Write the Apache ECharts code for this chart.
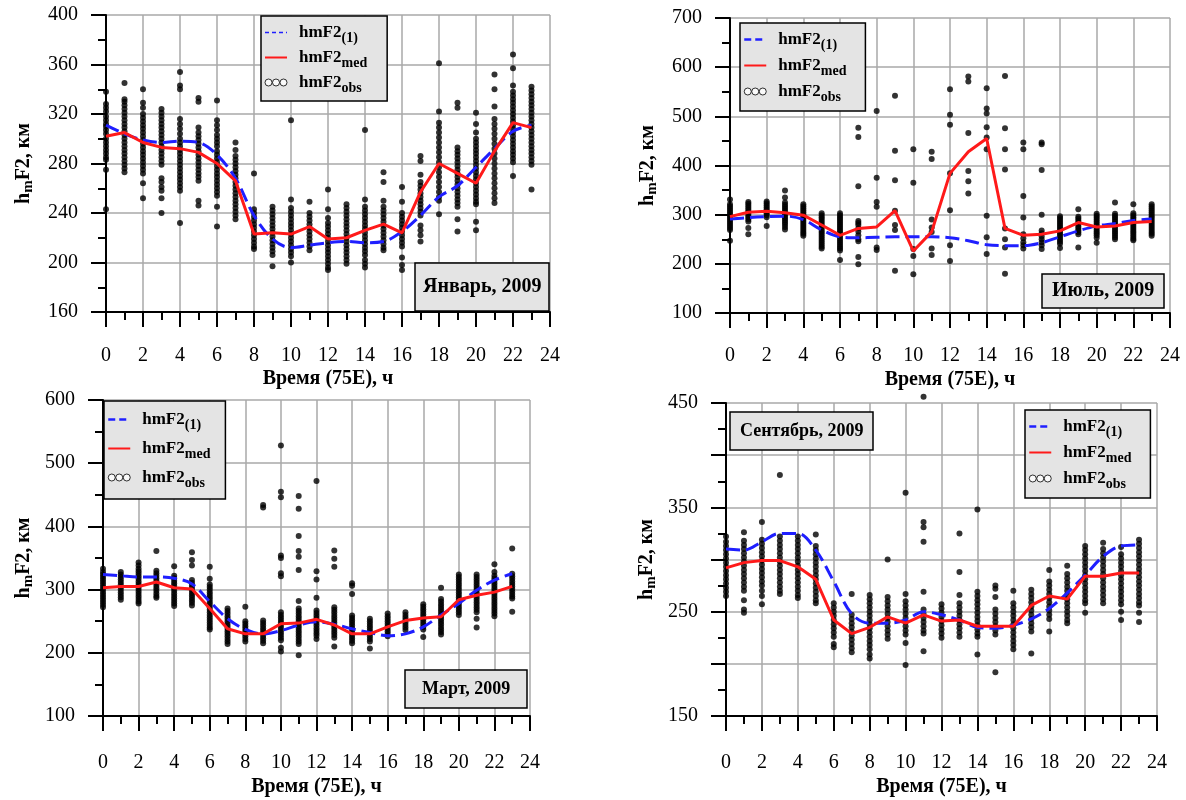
<!DOCTYPE html>
<html>
<head>
<meta charset="utf-8">
<script src="https://cdn.jsdelivr.net/npm/echarts@6/dist/echarts.min.js"></script>
<style>
html,body{margin:0;padding:0;background:#fff;}
#chart{width:1186px;height:800px;}
</style>
</head>
<body>
<div id="chart"></div>
<script>
// ---------- DATA ----------
const hours = [0,1,2,3,4,5,6,7,8,9,10,11,12,13,14,15,16,17,18,19,20,21,22,23];

// January 2009
const janMed   = [302,305,297,293,292,289,280,266,223,224,223,229,219,220,226,231,224,257,280,272,264,290,313,309];
const janModel = [311,304,299,297,298,297,287,268,238,219,212,214,216,217,216,217,225,238,253,262,277,292,306,311];
const janObs = [
 [338,328,325,322,318,315,312,310,307,304,300,297,294,291,288,285,283,275,243],
 [345,332,330,327,324,321,318,315,312,309,306,303,300,297,294,291,288,285,282,279,276,273],
 [340,329,325,320,317,314,311,308,305,302,299,296,293,290,287,284,281,278,275,272,264,252],
 [324,321,318,315,312,309,306,303,300,297,294,291,288,285,282,279,268,265,261,258,252,240],
 [354,343,340,316,312,308,304,300,297,294,291,288,285,282,279,276,273,270,267,264,261,258,232],
 [333,330,309,305,302,299,296,293,290,287,284,281,278,275,272,269,266,250,246],
 [331,315,311,307,303,300,297,294,290,287,284,281,278,275,272,269,266,263,260,257,254,245,229],
 [297,291,286,283,280,277,274,271,268,265,262,259,256,253,250,247,244,241,238,235],
 [272,243,240,237,234,231,228,225,222,219,216,213,211],
 [245,242,239,236,233,230,227,224,221,218,215,212,209,206,197],
 [315,251,244,241,238,235,232,229,226,223,220,217,214,211,208,205,200],
 [249,240,237,234,231,228,225,222,219,216,213,210],
 [259,243,236,232,229,226,223,220,217,214,211,208,205,202,199,196,194],
 [247,244,241,238,235,232,229,226,223,220,217,214,211,208,205,202,199],
 [307,251,245,242,239,236,233,230,227,224,221,218,215,212,209,206,202,199,196],
 [273,265,250,245,242,239,236,233,230,227,224,221,218,215,212,210],
 [261,249,240,237,234,231,228,225,222,219,216,213,204,198,194],
 [286,282,271,265,262,259,256,253,250,247,244,241,238,230,226,222,217],
 [361,322,313,309,305,301,297,293,289,285,281,277,273,269,265,261,257,253,250,239],
 [329,325,293,290,287,284,281,278,275,272,269,266,263,260,257,254,251,248,245,235,225],
 [321,312,305,300,297,294,291,288,285,282,279,276,273,270,267,264,261,258,255,252,249,247,233,226],
 [352,340,326,316,312,308,304,300,296,292,288,284,280,276,272,268,264,260,256,252,248],
 [368,357,343,338,335,332,329,326,323,320,317,314,311,308,305,302,299,296,293,290,287,284,281,270],
 [342,339,336,333,330,327,324,321,318,315,312,309,306,303,300,297,294,291,288,285,282,279,259]
];

// July 2009
const julMed   = [296,305,307,304,299,279,258,272,275,308,226,265,384,428,455,272,258,260,267,284,275,277,284,286];
const julModel = [291,294,296,297,290,269,255,253,254,255,255,255,253,247,239,237,237,243,255,267,277,282,288,291];
const julObs = [
 [331,321,317,313,309,305,301,297,293,289,285,281,277,273,269,247],
 [326,322,318,314,310,306,302,298,294,290,286,273,260],
 [327,323,319,315,311,307,303,299,295,277],
 [349,335,325,320,316,312,308,304,300,296,292,288,284,280,275,270],
 [321,317,313,309,305,301,297,293,289,285,281,277,273,269,265,261,257],
 [303,299,295,291,287,283,279,275,271,267,263,259,255,251,247,243,239,235,231],
 [303,299,295,291,287,283,279,275,271,267,263,259,255,251,247,243,239,235,231,227,208],
 [477,458,358,287,283,279,272,266,258,250,246,214,199],
 [511,375,326,316,233,228],
 [542,430,370,308,279,269,186],
 [433,365,230,216,179],
 [428,413,290,274,265,231,218],
 [555,503,483,384,309,238,206],
 [581,571,466,389,368,343],
 [557,516,506,478,457,433,298,254,220],
 [582,476,433,392,272,250,233,180],
 [447,433,338,294,260,252,244,238,231],
 [447,443,391,300,268,262,256,250,244,238,230],
 [297,293,289,285,281,277,273,269,265,261,257,253,249,245,241,232],
 [311,296,292,288,284,280,276,272,268,264,260,233],
 [302,298,294,290,286,282,278,274,270,266,262,258,253,243],
 [325,302,298,294,290,286,282,278,274,270,266,262,258,254,250],
 [321,303,299,295,291,287,283,279,275,271,267,263,259,255,251,248],
 [321,317,313,309,305,301,297,293,289,285,281,277,273,269,265,261,257]
];

// March 2009
const marMed   = [303,305,305,312,303,301,270,238,230,230,246,247,253,244,230,230,241,251,255,257,284,291,296,305];
const marModel = [324,322,320,320,318,309,281,254,237,230,235,244,249,245,238,232,227,230,241,260,278,299,315,325];
const marObs = [
 [333,328,324,320,316,312,308,304,300,296,292,288,284,280,276,272],
 [328,324,320,316,312,308,304,300,296,292,288,284],
 [343,338,333,329,325,321,317,313,309,305,301,297,293,289,285,281,278],
 [361,330,326,322,318,314,310,306,302,298,294,290,287],
 [337,322,318,314,310,306,302,298,294,290,286,282,278,274],
 [359,347,338,315,311,307,303,299,295,291,287,283,279,275],
 [336,317,308,304,300,296,292,288,284,280,276,272,268,264,260,256,252,248,244,240,237],
 [270,266,262,258,254,250,246,242,238,234,230,226,222,218,214],
 [273,250,246,242,238,234,230,226,222,218],
 [434,430,251,247,243,239,235,231,227,223,219,215],
 [528,455,446,354,350,326,321,264,260,256,252,248,244,240,236,232,228,224,220,208,202],
 [448,428,385,361,352,331,282,270,266,262,258,254,250,246,242,238,234,230,226,222,218,214,196],
 [472,329,316,287,267,263,259,255,251,247,243,239,235,231,227,222],
 [362,349,336,272,268,264,260,256,252,248,244,240,236,232,228,224,210],
 [310,306,293,259,255,251,247,243,239,235,231,227,223,219,215],
 [254,250,246,242,238,234,230,226,222,218,207],
 [262,258,254,250,246,242,238,234,230,226],
 [264,260,256,252,248,244,240,236],
 [277,273,269,265,261,257,253,249,245,241,237,225],
 [303,285,281,277,273,269,265,261,257,253,249,245,241,237,233,229],
 [324,320,316,312,308,304,300,296,292,288,284,280,276,272,268,264,260],
 [324,320,316,312,308,304,300,296,292,288,284,280,276,272,268,264,254,240],
 [340,328,322,318,314,310,306,302,298,294,290,286,282,278,274,270,266,262,258],
 [365,325,321,317,313,309,305,301,297,293,289,286,265]
];

// September 2009
const sepMed   = [292,297,299,299,293,281,242,229,235,245,239,247,241,242,236,236,236,256,265,262,284,284,287,287];
const sepModel = [310,309,317,325,325,309,279,248,239,239,242,250,247,242,235,234,237,243,253,268,285,303,313,314];
const sepObs = [
 [322,317,313,309,305,301,297,293,289,285,281,277,273,269,265],
 [326,318,314,310,306,302,298,294,290,286,282,278,274,270,261,252,249],
 [336,319,315,311,307,303,299,295,291,287,283,279,275,270,265,257],
 [381,322,318,314,310,306,302,298,294,290,286,282,278,274,270,267],
 [322,318,314,310,306,302,298,294,290,286,282,278,274,270,266,263],
 [324,313,309,305,301,297,293,289,285,281,277,273,269,265,261,258],
 [258,254,250,246,242,238,234,230,226,219,216],
 [267,247,243,239,235,231,227,223,219,215,211],
 [266,262,258,254,250,246,242,238,234,230,226,222,218,214,209,205],
 [300,264,260,256,252,248,244,240,236,232,228,224],
 [364,267,260,256,252,248,244,240,236,232,228,220,199],
 [456,336,331,317,269,252,248,244,240,236,232,229,212],
 [257,253,249,245,241,237,233,229,225],
 [325,288,266,258,254,250,246,242,238,234,230,226],
 [348,269,265,261,257,253,249,245,241,237,233,229,226,209],
 [275,272,264,252,248,244,240,236,232,228,192],
 [270,258,254,250,246,242,238,234,230,226,222,218,214],
 [271,267,263,259,255,251,247,243,239,235,231,210],
 [290,279,275,271,267,263,259,255,251,247,243,231],
 [294,286,282,278,274,270,266,262,258,254,250,246,242,239],
 [313,309,305,301,297,293,289,285,281,277,273,269,265,261,258,249],
 [316,310,306,302,298,294,290,286,282,278,274,270,266,262,258],
 [312,305,301,297,293,289,285,281,277,273,269,265,261,257,250,242],
 [319,315,311,307,303,299,295,291,287,283,279,275,271,267,263,259,256,249,240]
];

const monthTitles = ['Январь, 2009','Июль, 2009','Март, 2009','Сентябрь, 2009'];
const xTitle = 'Время (75E), ч';
const seriesNames = ['hmF2(1)','hmF2med','hmF2obs'];

// ---------- LAYOUT / STYLE ----------
const FONT = 'Liberation Serif';
const panels = [
 {obs:janObs, med:janMed, model:janModel, grid:{left:106,top:15,width:444,height:297},
  y:{min:160,max:400,interval:40}, nameGapX:57, nameGapY:70, labelMarginX:34,
  legend:{left:261,top:16,padding:[8,20,6,3],itemGap:4,lw:1.5,dash:[4,3]},
  title:{left:415,top:263,fontSize:20,padding:[13,8]}},
 {obs:julObs, med:julMed, model:julModel, grid:{left:730,top:18,width:440,height:295},
  y:{min:100,max:700,interval:100}, nameGapX:57, nameGapY:70, labelMarginX:33,
  legend:{left:740,top:23,padding:[8,19,7,3],itemGap:5,lw:2.5,dash:[7,4]},
  title:{left:1042,top:274,fontSize:20,padding:[6,10]}},
 {obs:marObs, med:marMed, model:marModel, grid:{left:103,top:400,width:427,height:316},
  y:{min:100,max:600,interval:100}, nameGapX:61, nameGapY:67, labelMarginX:37,
  legend:{left:104,top:401,padding:[10,15,9,3],itemGap:8,lw:2.5,dash:[7,4]},
  title:{left:405,top:670,fontSize:18,padding:[9,17]}},
 {obs:sepObs, med:sepMed, model:sepModel, grid:{left:726,top:403,width:431,height:313},
  y:{min:150,max:450,interval:50, labelStep:100}, nameGapX:61, nameGapY:67, labelMarginX:37,
  legend:{left:1025,top:410,padding:[8,19,7,3],itemGap:5,lw:2.5,dash:[7,4]},
  title:{left:730,top:412,fontSize:18,padding:[9,10]}}
];

const axisBlack = {color:'#000', width:2};
const gridGrey = {color:'#a8a8a8', width:1.5};
const tickLabel = {fontFamily:FONT, fontSize:20, color:'#000'};
const nameStyle = {fontFamily:FONT, fontSize:20, fontWeight:'bold', color:'#000'};

const legendIconObs = 'path://M0,5a3.5,3.5 0 1,0 7,0a3.5,3.5 0 1,0 -7,0M7.5,5a3.5,3.5 0 1,0 7,0a3.5,3.5 0 1,0 -7,0M15,5a3.5,3.5 0 1,0 7,0a3.5,3.5 0 1,0 -7,0';

const option = {
  animation:false,
  backgroundColor:'#fff',
  grid:[], xAxis:[], yAxis:[], series:[], legend:[], title:[]
};

panels.forEach((p, i) => {
  option.grid.push(Object.assign({containLabel:false}, p.grid));
  option.xAxis.push({
    type:'value', gridIndex:i, min:0, max:24, interval:2,
    name:xTitle, nameLocation:'middle', nameGap:p.nameGapX, nameTextStyle:nameStyle,
    axisLine:{show:true, onZero:false, lineStyle:axisBlack},
    axisTick:{show:true, inside:false, length:15, lineStyle:axisBlack},
    minorTick:{show:true, splitNumber:2, length:8, lineStyle:axisBlack},
    splitLine:{show:true, lineStyle:gridGrey},
    axisLabel:Object.assign({margin:p.labelMarginX}, tickLabel)
  });
  const step = p.y.labelStep;
  const base = p.y.min;
  option.yAxis.push({
    type:'value', gridIndex:i, min:p.y.min, max:p.y.max, interval:p.y.interval,
    name:'{n|h}{s|m}{n|F2, км}', nameLocation:'middle', nameGap:p.nameGapY,
    nameTextStyle:Object.assign({}, nameStyle, {rich:{
      n:{fontFamily:FONT, fontSize:20, fontWeight:'bold', color:'#000'},
      s:{fontFamily:FONT, fontSize:15, fontWeight:'bold', color:'#000', padding:[10,0,0,0]}
    }}),
    axisLine:{show:true, onZero:false, lineStyle:axisBlack},
    axisTick:{show:true, inside:false, length:15, lineStyle:axisBlack},
    minorTick:{show:true, splitNumber:2, length:8, lineStyle:axisBlack},
    splitLine:{show:true, lineStyle:gridGrey},
    axisLabel:Object.assign({margin:28, formatter: v => (step && (v-base) % step !== 0) ? '' : String(v)}, tickLabel)
  });
  const pts = [];
  p.obs.forEach((col, h) => col.forEach(v => pts.push([hours[h], v])));
  option.series.push({
    name:seriesNames[2], type:'scatter', xAxisIndex:i, yAxisIndex:i,
    data:pts, symbol:'circle', symbolSize:6, clip:false,
    itemStyle:{color:'#000'}, z:2
  });
  option.series.push({
    name:seriesNames[0], type:'line', xAxisIndex:i, yAxisIndex:i,
    data:hours.map((h,k)=>[h, p.model[k]]), showSymbol:false, symbol:'none', smooth:0.35,
    lineStyle:{color:'#1f1fff', width:3, type:[14,6]}, itemStyle:{color:'#1f1fff'}, z:3
  });
  option.series.push({
    name:seriesNames[1], type:'line', xAxisIndex:i, yAxisIndex:i,
    data:hours.map((h,k)=>[h, p.med[k]]), showSymbol:false, symbol:'none',
    lineStyle:{color:'#ff1a1a', width:3}, itemStyle:{color:'#ff1a1a'}, z:4
  });
  option.legend.push({
    left:p.legend.left, top:p.legend.top, orient:'vertical',
    backgroundColor:'#e4e4e4', borderColor:'#000', borderWidth:1.5, borderRadius:0,
    padding:p.legend.padding, itemGap:p.legend.itemGap, itemWidth:22, itemHeight:12,
    selectedMode:false,
    data:[
      {name:seriesNames[0], lineStyle:{width:p.legend.lw, type:p.legend.dash}, itemStyle:{opacity:0, borderWidth:0}},
      {name:seriesNames[1], lineStyle:{width:2}, itemStyle:{opacity:0, borderWidth:0}},
      {name:seriesNames[2], icon:legendIconObs, itemStyle:{color:'#fff', borderColor:'#000', borderWidth:1}}
    ],
    formatter: name => name === 'hmF2(1)' ? '{b|hmF2}{s|(1)}' : name === 'hmF2med' ? '{b|hmF2}{s|med}' : '{b|hmF2}{s|obs}',
    textStyle:{fontFamily:FONT, fontSize:17, fontWeight:'bold', color:'#000', padding:[0,0,0,7],
      rich:{
        b:{fontFamily:FONT, fontSize:17, fontWeight:'bold', color:'#000'},
        s:{fontFamily:FONT, fontSize:14, fontWeight:'bold', color:'#000', padding:[11,0,0,0]}
      }}
  });
  option.title.push({
    text:monthTitles[i], left:p.title.left, top:p.title.top,
    backgroundColor:'#e4e4e4', borderColor:'#000', borderWidth:1.5,
    padding:p.title.padding,
    textStyle:{fontFamily:FONT, fontSize:p.title.fontSize, fontWeight:'bold', color:'#000', lineHeight:p.title.fontSize+2}
  });
});

const chart = echarts.init(document.getElementById('chart'), null, {renderer:'canvas'});
chart.setOption(option);
</script>
</body>
</html>
